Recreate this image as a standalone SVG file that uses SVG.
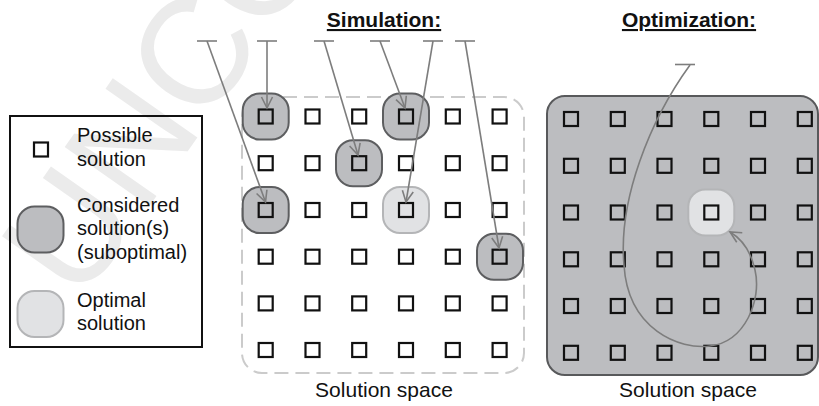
<svg xmlns="http://www.w3.org/2000/svg" xmlns:xlink="http://www.w3.org/1999/xlink" width="819" height="406" viewBox="0 0 819 406">
  <style>
    .lbl { font-family: "Liberation Sans", Arial, sans-serif; font-size: 20px; fill: #111; }
    .title { font-family: "Liberation Sans", Arial, sans-serif; font-size: 21px; font-weight: bold; fill: #111; text-decoration: underline; }
    .caption { font-family: "Liberation Sans", Arial, sans-serif; font-size: 21px; fill: #111; }
    .mark { font-family: "Liberation Sans", Arial, sans-serif; font-size: 150px; fill: #ebebeb; }
    .sq { fill: none; stroke: #111; stroke-width: 2.2; }
    .cons { fill: #bcbdc0; stroke: #5d5e60; stroke-width: 2; }
    .opt { fill: #e1e2e4; stroke: #b4b5b7; stroke-width: 2; }
    .conn { fill: none; stroke: #7d7d7d; stroke-width: 1.6; }
  </style>
  <defs>
    <rect id="sq" class="sq" x="-7" y="-7" width="14" height="14"/>
    <rect id="cons" class="cons" x="-23" y="-23" width="46" height="46" rx="17"/>
    <rect id="opt" class="opt" x="-23" y="-23" width="46" height="46" rx="17"/>
    <marker id="head" markerUnits="userSpaceOnUse" viewBox="-12 -7 14 14" refX="0" refY="0" markerWidth="14" markerHeight="14" orient="auto">
      <path d="M-11,-5.5 L0,0 L-11,5.5" fill="none" stroke="#7d7d7d" stroke-width="1.6"/>
    </marker>
    <marker id="tee" markerUnits="userSpaceOnUse" viewBox="-11 -2 22 4" refX="0" refY="0" markerWidth="22" markerHeight="4" orient="0">
      <path d="M-10,0 L10,0" stroke="#7d7d7d" stroke-width="1.6"/>
    </marker>
  </defs>

  <rect width="819" height="406" fill="#ffffff"/>

  <!-- background watermark -->
  <text class="mark" transform="translate(80,305) rotate(-55)">UNCO</text>

  <!-- legend -->
  <g id="legend">
    <rect x="10" y="116" width="192" height="231" fill="none" stroke="#111" stroke-width="2"/>
    <use xlink:href="#sq" x="41" y="149.5"/>
    <text class="lbl" x="77" y="141.5">Possible</text>
    <text class="lbl" x="77" y="165.5">solution</text>
    <use xlink:href="#cons" x="40.5" y="229.5"/>
    <text class="lbl" x="77" y="211.5">Considered</text>
    <text class="lbl" x="77" y="235">solution(s)</text>
    <text class="lbl" x="77" y="259">(suboptimal)</text>
    <use xlink:href="#opt" x="40.5" y="314"/>
    <text class="lbl" x="77" y="306.5">Optimal</text>
    <text class="lbl" x="77" y="330">solution</text>
  </g>

  <!-- simulation panel -->
  <g id="simulation">
    <text class="title" x="384" y="27" text-anchor="middle">Simulation:</text>
    <rect x="242" y="97" width="282" height="276" rx="20" fill="none" stroke="#cbcbcb" stroke-width="2" stroke-dasharray="14 7"/>
    <use xlink:href="#cons" x="265.7" y="116.5"/>
    <use xlink:href="#cons" x="406" y="116.5"/>
    <use xlink:href="#cons" x="359" y="163.2"/>
    <use xlink:href="#cons" x="265.7" y="210"/>
    <use xlink:href="#opt" x="406" y="210"/>
    <use xlink:href="#cons" x="500" y="256.7"/>
    <g id="sim-grid">
      <use xlink:href="#sq" x="265.7" y="116.5"/><use xlink:href="#sq" x="312.5" y="116.5"/><use xlink:href="#sq" x="359.2" y="116.5"/><use xlink:href="#sq" x="406" y="116.5"/><use xlink:href="#sq" x="452.8" y="116.5"/><use xlink:href="#sq" x="499.6" y="116.5"/>
      <use xlink:href="#sq" x="265.7" y="163.2"/><use xlink:href="#sq" x="312.5" y="163.2"/><use xlink:href="#sq" x="359.2" y="163.2"/><use xlink:href="#sq" x="406" y="163.2"/><use xlink:href="#sq" x="452.8" y="163.2"/><use xlink:href="#sq" x="499.6" y="163.2"/>
      <use xlink:href="#sq" x="265.7" y="210"/><use xlink:href="#sq" x="312.5" y="210"/><use xlink:href="#sq" x="359.2" y="210"/><use xlink:href="#sq" x="406" y="210"/><use xlink:href="#sq" x="452.8" y="210"/><use xlink:href="#sq" x="499.6" y="210"/>
      <use xlink:href="#sq" x="265.7" y="256.7"/><use xlink:href="#sq" x="312.5" y="256.7"/><use xlink:href="#sq" x="359.2" y="256.7"/><use xlink:href="#sq" x="406" y="256.7"/><use xlink:href="#sq" x="452.8" y="256.7"/><use xlink:href="#sq" x="499.6" y="256.7"/>
      <use xlink:href="#sq" x="265.7" y="303.4"/><use xlink:href="#sq" x="312.5" y="303.4"/><use xlink:href="#sq" x="359.2" y="303.4"/><use xlink:href="#sq" x="406" y="303.4"/><use xlink:href="#sq" x="452.8" y="303.4"/><use xlink:href="#sq" x="499.6" y="303.4"/>
      <use xlink:href="#sq" x="265.7" y="350"/><use xlink:href="#sq" x="312.5" y="350"/><use xlink:href="#sq" x="359.2" y="350"/><use xlink:href="#sq" x="406" y="350"/><use xlink:href="#sq" x="452.8" y="350"/><use xlink:href="#sq" x="499.6" y="350"/>
    </g>
    <text class="caption" x="384" y="397" text-anchor="middle">Solution space</text>
  </g>

  <!-- optimization panel -->
  <g id="optimization">
    <text class="title" x="689" y="27" text-anchor="middle">Optimization:</text>
    <rect x="547" y="96" width="271" height="279" rx="18" fill="#bcbdc0" stroke="#58595b" stroke-width="2"/>
    <use xlink:href="#opt" x="711.3" y="212.5"/>
    <g id="opt-grid">
      <use xlink:href="#sq" x="571" y="119"/><use xlink:href="#sq" x="617.8" y="119"/><use xlink:href="#sq" x="664.5" y="119"/><use xlink:href="#sq" x="711.3" y="119"/><use xlink:href="#sq" x="758" y="119"/><use xlink:href="#sq" x="804.8" y="119"/>
      <use xlink:href="#sq" x="571" y="165.8"/><use xlink:href="#sq" x="617.8" y="165.8"/><use xlink:href="#sq" x="664.5" y="165.8"/><use xlink:href="#sq" x="711.3" y="165.8"/><use xlink:href="#sq" x="758" y="165.8"/><use xlink:href="#sq" x="804.8" y="165.8"/>
      <use xlink:href="#sq" x="571" y="212.5"/><use xlink:href="#sq" x="617.8" y="212.5"/><use xlink:href="#sq" x="664.5" y="212.5"/><use xlink:href="#sq" x="711.3" y="212.5"/><use xlink:href="#sq" x="758" y="212.5"/><use xlink:href="#sq" x="804.8" y="212.5"/>
      <use xlink:href="#sq" x="571" y="259.3"/><use xlink:href="#sq" x="617.8" y="259.3"/><use xlink:href="#sq" x="664.5" y="259.3"/><use xlink:href="#sq" x="711.3" y="259.3"/><use xlink:href="#sq" x="758" y="259.3"/><use xlink:href="#sq" x="804.8" y="259.3"/>
      <use xlink:href="#sq" x="571" y="306"/><use xlink:href="#sq" x="617.8" y="306"/><use xlink:href="#sq" x="664.5" y="306"/><use xlink:href="#sq" x="711.3" y="306"/><use xlink:href="#sq" x="758" y="306"/><use xlink:href="#sq" x="804.8" y="306"/>
      <use xlink:href="#sq" x="571" y="352.8"/><use xlink:href="#sq" x="617.8" y="352.8"/><use xlink:href="#sq" x="664.5" y="352.8"/><use xlink:href="#sq" x="711.3" y="352.8"/><use xlink:href="#sq" x="758" y="352.8"/><use xlink:href="#sq" x="804.8" y="352.8"/>
    </g>
    <text class="caption" x="688" y="397" text-anchor="middle">Solution space</text>
  </g>

  <!-- connectors: evaluated candidates and search path -->
  <g id="connectors">
    <path class="conn" marker-start="url(#tee)" marker-end="url(#head)" d="M207,41 L265.5,202"/>
    <path class="conn" marker-start="url(#tee)" marker-end="url(#head)" d="M267,41 L267,108"/>
    <path class="conn" marker-start="url(#tee)" marker-end="url(#head)" d="M324,41 L358,155"/>
    <path class="conn" marker-start="url(#tee)" marker-end="url(#head)" d="M380,41 L405,108"/>
    <path class="conn" marker-start="url(#tee)" marker-end="url(#head)" d="M433,41 L406,202"/>
    <path class="conn" marker-start="url(#tee)" marker-end="url(#head)" d="M465,41 L499,248"/>
    <line class="conn" x1="675" y1="64.5" x2="695" y2="64.5"/>
    <path class="conn" marker-end="url(#head)" d="M690,65 C650,120 618,200 624,265 C628,330 680,350 710,346 C745,342 762,300 755,270 C751,252 742,239 730,232"/>
  </g>
</svg>
